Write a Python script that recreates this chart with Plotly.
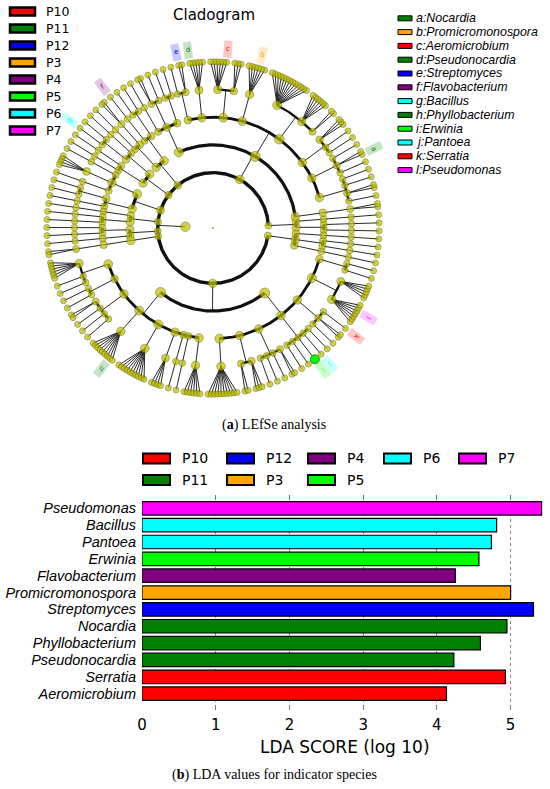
import math
import plotly.graph_objects as go

W, H = 550, 789

# ---- LDA scores (bottom panel), listed bottom -> top ----
species = ["Aeromicrobium", "Serratia", "Pseudonocardia", "Phyllobacterium", "Nocardia",
           "Streptomyces", "Promicromonospora", "Flavobacterium", "Erwinia", "Pantoea",
           "Bacillus", "Pseudomonas"]
lda_scores = [4.13, 4.93, 4.23, 4.59, 4.95, 5.31, 5.00, 4.25, 4.57, 4.74, 4.81, 5.42]
species_group = ["P10", "P10", "P11", "P11", "P11", "P12", "P3", "P4", "P5", "P6", "P6", "P7"]

groups = ["P10", "P11", "P12", "P3", "P4", "P5", "P6", "P7"]
group_colors = ["#ff0000", "#008000", "#0000ff", "#ffa500", "#800080", "#00ff00", "#00ffff", "#ff00ff"]
bar_legend_rows = [["P10", "P12", "P4", "P6", "P7"], ["P11", "P3", "P5"]]

# ---- cladogram biomarkers ----
clade_letters = ["a", "b", "c", "d", "e", "f", "g", "h", "i", "j", "k", "l"]
clade_names = ["Nocardia", "Promicromonospora", "Aeromicrobium", "Pseudonocardia", "Streptomyces",
               "Flavobacterium", "Bacillus", "Phyllobacterium", "Erwinia", "Pantoea", "Serratia",
               "Pseudomonas"]
clade_groups = ["P11", "P3", "P10", "P11", "P12", "P4", "P6", "P11", "P5", "P6", "P10", "P7"]
clade_angles = [25, 74, 85, 99, 101.5, 128, 143, 232, 308.5, 309.5, 322, 330]  # degrees, ccw from east

# taxonomy: phylum -> class -> order -> family ; ints = number of genera in the family
phyla = [
    [[[1], [1]], [[1]]],
    [
        [[2]],
        [[1, 2, 1, 1], [1, 2, 1], [1, 1, 3], [2, 6, 13], [6], [3, 6], [5], [2, 1]],
        [[1, 1], [1, 2], [1]],
    ],
    [[[1, 1], [1]], [[2], [1]]],
    [[[1], [1, 1]], [[1], [1]]],
    [[[1], [4], [1]], [[1, 1], [1]]],
    [[[1]], [[1], [1]]],
    [[[1], [1]], [[1]]],
    [[[2]]],
    [
        [[6, 1, 1], [1, 1], [2, 1, 1, 1], [9], [10], [4], [1], [1], [6]],
        [[10], [2, 3], [1, 1, 1, 2], [1, 1, 1, 1, 1], [1, 2, 1], [7, 5], [1, 1]],
    ],
    [[[1]], [[1], [1]], [[1]]],
]

R_STEP = 27.7          # px between taxonomic levels
START_ANGLE = -1.0
FAMILY_GAP = 1.5
NODE_COLOR = "#bfbf00"


def pol(r, deg):
    t = math.radians(deg)
    return r * math.cos(t), r * math.sin(t)


def build_node(item, level):
    if level == 5:
        kids = [{"level": 6, "children": []} for _ in range(item)]
    else:
        kids = [build_node(c, level + 1) for c in item]
    return {"level": level, "children": kids}


def walk(node):
    yield node
    for c in node["children"]:
        yield from walk(c)


def set_angles(node):
    if not node["children"]:
        node["n"] = 1
        return
    for c in node["children"]:
        set_angles(c)
    angs = [c["angle"] for c in node["children"]]
    node["angle"] = (min(angs) + max(angs)) / 2
    node["n"] = sum(c["n"] for c in node["children"])


def layout_tree():
    root = {"level": 0, "children": [build_node(phyla, 1)]}
    fams = [n for n in walk(root) if n["level"] == 5]
    leaves = []
    u = 0.0
    for fam in fams:
        for j, leaf in enumerate(fam["children"]):
            if leaves:
                u += 1.0 if j > 0 else 1.0 + FAMILY_GAP
            leaf["u"] = u
            leaves.append(leaf)
    total = u + 1.0 + FAMILY_GAP
    for leaf in leaves:
        leaf["angle"] = START_ANGLE + leaf["u"] * 360.0 / total
    set_angles(root)
    return root, leaves


def px2paper(x, y):
    return x / W, 1 - y / H


def add_cladogram(fig):
    root, leaves = layout_tree()
    arc_w = {2: 3.4, 3: 3.2, 4: 2.8, 5: 2.3}
    arcs = {k: ([], []) for k in arc_w}
    thin_x, thin_y = [], []

    for node in walk(root):
        lv = node["level"]
        if lv == 0 or not node["children"]:
            continue
        r_p, r_c = lv * R_STEP, (lv + 1) * R_STEP
        a = node["angle"]
        if lv == 5:
            for c in node["children"]:
                x0, y0 = pol(r_p, a)
                x1, y1 = pol(r_c, c["angle"])
                thin_x += [x0, x1, None]
                thin_y += [y0, y1, None]
            continue
        x0, y0 = pol(r_p, a)
        x1, y1 = pol(r_c, a)
        thin_x += [x0, x1, None]
        thin_y += [y0, y1, None]
        angs = [c["angle"] for c in node["children"]]
        lo, hi = min(angs), max(angs)
        if hi - lo > 0.01:
            steps = max(2, int((hi - lo) / 0.5) + 1)
            ax, ay = arcs[lv + 1]
            for i in range(steps + 1):
                x, y = pol(r_c, lo + (hi - lo) * i / steps)
                ax.append(x)
                ay.append(y)
            ax.append(None)
            ay.append(None)

    fig.add_trace(go.Scatter(x=thin_x, y=thin_y, mode="lines", hoverinfo="skip",
                             line=dict(color="#111111", width=0.9)))
    for lv, (ax, ay) in arcs.items():
        fig.add_trace(go.Scatter(x=ax, y=ay, mode="lines", hoverinfo="skip",
                                 line=dict(color="#111111", width=arc_w[lv])))

    # nodes
    base = {1: 9.5, 2: 6.0, 3: 7.5, 4: 7.0, 5: 6.5, 6: 6.0}
    nx, ny, ns, nc = [], [], [], []
    for node in walk(root):
        lv = node["level"]
        if lv == 0:
            continue
        r = lv * R_STEP
        x, y = pol(r, node["angle"])
        size = base[lv]
        if 2 <= lv <= 5:
            size += min(2.5, 0.6 * math.log2(node["n"]))
        nx.append(x)
        ny.append(y)
        ns.append(size)
        nc.append(NODE_COLOR)

    # biomarker label boxes, snapped to nearest genus
    color_of = dict(zip(groups, group_colors))
    hx, hy = [], []
    for letter, grp, target in zip(clade_letters, clade_groups, clade_angles):
        leaf = min(leaves, key=lambda lf: abs(lf["angle"] - target))
        a = leaf["angle"]
        col = color_of[grp]
        c, s = math.cos(math.radians(a)), math.sin(math.radians(a))
        w = 4.2
        pts = []
        for r, side in [(171, 1), (188, 1), (188, -1), (171, -1)]:
            pts.append((r * c - side * w * s, r * s + side * w * c))
        path = "M " + " L ".join(f"{x:.2f},{y:.2f}" for x, y in pts) + " Z"
        rgb = tuple(int(col[i:i + 2], 16) for i in (1, 3, 5))
        fig.add_shape(type="path", path=path, xref="x", yref="y", layer="below",
                      fillcolor=f"rgba({rgb[0]},{rgb[1]},{rgb[2]},0.22)", line=dict(width=0))
        tx, ty = pol(179.5, a)
        fig.add_annotation(x=tx, y=ty, xref="x", yref="y", text=letter, showarrow=False,
                           textangle=90 - a, font=dict(family="DejaVu Sans", size=7, color=col))
        if letter == "i":
            x, y = pol(6 * R_STEP, a)
            hx.append(x)
            hy.append(y)

    fig.add_trace(go.Scatter(x=nx, y=ny, mode="markers", hoverinfo="skip",
                             marker=dict(size=ns, color=nc, line=dict(color="#5f5f00", width=0.7))))
    fig.add_trace(go.Scatter(x=[0], y=[0], mode="markers", hoverinfo="skip",
                             marker=dict(size=2, color="#9a9a30")))
    fig.add_trace(go.Scatter(x=hx, y=hy, mode="markers", hoverinfo="skip",
                             marker=dict(size=9, color="#00ff00", line=dict(color="#336600", width=0.8))))

    # left group legend
    for i, (g, col) in enumerate(zip(groups, group_colors)):
        yc = 11.5 + i * 17.0
        x0, y0 = px2paper(10, yc + 4)
        x1, y1 = px2paper(35, yc - 4)
        fig.add_shape(type="rect", xref="paper", yref="paper", x0=x0, y0=y0, x1=x1, y1=y1,
                      fillcolor=col, line=dict(color="black", width=2.5))
        tx, ty = px2paper(44, yc)
        fig.add_annotation(x=tx, y=ty, xref="paper", yref="paper", text=g, showarrow=False,
                           xanchor="left", yanchor="middle",
                           font=dict(family="DejaVu Sans", size=12.5, color="black"))

    # right biomarker legend
    for i, (letter, name, grp) in enumerate(zip(clade_letters, clade_names, clade_groups)):
        yc = 18.3 + i * 13.8
        x0, y0 = px2paper(398, yc + 2.5)
        x1, y1 = px2paper(412, yc - 2.5)
        fig.add_shape(type="rect", xref="paper", yref="paper", x0=x0, y0=y0, x1=x1, y1=y1,
                      fillcolor=color_of[grp], line=dict(color="black", width=1))
        tx, ty = px2paper(414, yc)
        fig.add_annotation(x=tx, y=ty, xref="paper", yref="paper", text=f"<i>{letter}:{name}</i>",
                           showarrow=False, xanchor="left", yanchor="middle",
                           font=dict(family="Liberation Sans", size=12.4, color="black"))

    tx, ty = px2paper(214, 15)
    fig.add_annotation(x=tx, y=ty, xref="paper", yref="paper", text="Cladogram", showarrow=False,
                       xanchor="center", yanchor="middle",
                       font=dict(family="DejaVu Sans", size=15, color="black"))


def add_lda_bars(fig):
    color_of = dict(zip(groups, group_colors))
    fig.add_trace(go.Bar(
        x=lda_scores, y=species, orientation="h", xaxis="x2", yaxis="y2", width=0.8,
        marker=dict(color=[color_of[g] for g in species_group], line=dict(color="black", width=1.2)),
        hoverinfo="x+y",
    ))

    # legend above bars
    x_starts = [143, 227, 308, 384, 459]
    for row, names in enumerate(bar_legend_rows):
        yc = 458.5 + row * 21.5
        for k, g in enumerate(names):
            xs = x_starts[k]
            x0, y0 = px2paper(xs, yc + 5)
            x1, y1 = px2paper(xs + 27, yc - 5)
            fig.add_shape(type="rect", xref="paper", yref="paper", x0=x0, y0=y0, x1=x1, y1=y1,
                          fillcolor=color_of[g], line=dict(color="black", width=2))
            tx, ty = px2paper(xs + 37, yc)
            fig.add_annotation(x=tx, y=ty, xref="paper", yref="paper", text=g, showarrow=False,
                               xanchor="left", yanchor="middle",
                               font=dict(family="DejaVu Sans", size=14, color="black"))

    tx, ty = px2paper(345, 747)
    fig.add_annotation(x=tx, y=ty, xref="paper", yref="paper", text="LDA SCORE (log 10)",
                       showarrow=False, xanchor="center", yanchor="middle",
                       font=dict(family="DejaVu Sans", size=17, color="black"))


def add_captions(fig):
    for text, y in [("(<b>a</b>) LEfSe analysis", 425), ("(<b>b</b>) LDA values for indicator species", 775)]:
        tx, ty = px2paper(274, y)
        fig.add_annotation(x=tx, y=ty, xref="paper", yref="paper", text=text, showarrow=False,
                           xanchor="center", yanchor="middle",
                           font=dict(family="Liberation Serif", size=14, color="black"))


def main():
    fig = go.Figure()
    add_cladogram(fig)
    add_lda_bars(fig)
    add_captions(fig)

    fig.update_layout(
        template="none",
        width=W, height=H, margin=dict(l=0, r=0, t=0, b=0, autoexpand=False),
        paper_bgcolor="white", plot_bgcolor="white", showlegend=False,
        xaxis=dict(domain=[13 / W, 413 / W], range=[-200, 200], visible=False, automargin=False),
        yaxis=dict(domain=[1 - 428 / H, 1 - 28 / H], range=[-200, 200], visible=False, automargin=False),
        xaxis2=dict(domain=[142 / W, 546 / W], range=[0, 5.48], anchor="y2", automargin=False,
                    tickvals=[0, 1, 2, 3, 4, 5], ticks="inside", ticklen=5, tickcolor="#777777",
                    mirror="ticks", showline=False, zeroline=False,
                    showgrid=True, gridcolor="#8a8a8a", griddash="dot", gridwidth=1,
                    ticklabelstandoff=4,
                    tickfont=dict(family="DejaVu Sans", size=15, color="black")),
        yaxis2=dict(domain=[1 - 710 / H, 1 - 495 / H], range=[-0.97, 11.79], anchor="x2",
                    automargin=False, tickmode="array", tickvals=species, ticktext=species,
                    categoryorder="array", categoryarray=species, ticks="", showgrid=False,
                    showline=False, zeroline=False, ticklabelstandoff=5,
                    tickfont=dict(family="Liberation Sans", size=14.5, color="black", style="italic")),
    )
    # the page body has a default 8px margin; drop it so the figure fills the window
    fig.write_html("out.html", config={"displayModeBar": False},
                   post_script="document.body.style.margin='0px';"
                               "document.body.style.overflow='hidden';")


if __name__ == "__main__":
    main()
